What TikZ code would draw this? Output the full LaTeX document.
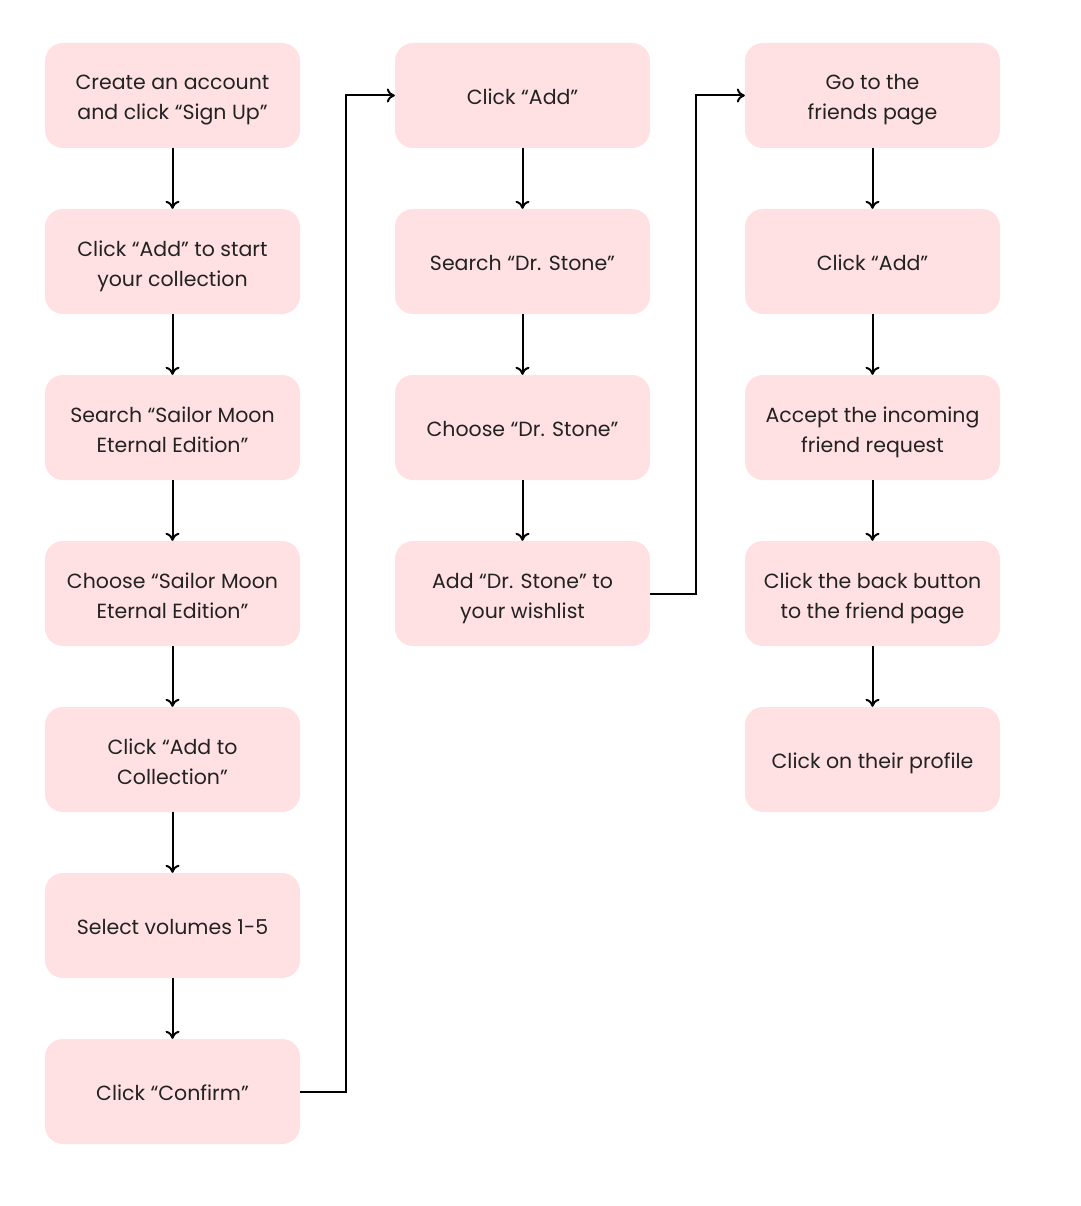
\documentclass[tikz,border=0pt]{standalone}
\usepackage{fontspec}
\setmainfont{Poppins}
\usepackage{xcolor}
\usetikzlibrary{arrows.meta}
\definecolor{boxpink}{RGB}{255, 224, 227}
\definecolor{textdark}{RGB}{34, 34, 34}

\begin{document}
\begin{tikzpicture}[x=1pt,y=-1pt,
  boxbase/.style={fill=boxpink, rounded corners=18pt, minimum width=255pt, minimum height=105pt,
    align=center, text=textdark, font=\fontsize{20.5}{30}\selectfont, inner sep=0pt},
  stepbox/.style={boxbase,
    execute at begin node={\rule[-6pt]{0pt}{30pt}}},
  stepboxtwo/.style={boxbase,
    execute at begin node={\rule[-6pt]{0pt}{61pt}}},
  flow/.style={draw=black, line width=2pt, -{To[length=8pt,width=14pt,line width=2pt]}}]
\useasboundingbox (0,0) rectangle (1080,1206);

% Column 1
\node [stepboxtwo] (c1) at (172.5,95.5) {Create an account\\and click “Sign Up”};
\node [stepboxtwo] (c2) at (172.5,261.5) {Click “Add” to start\\your collection};
\node [stepboxtwo] (c3) at (172.5,427.5) {Search “Sailor Moon\\Eternal Edition”};
\node [stepboxtwo] (c4) at (172.5,593.5) {Choose “Sailor Moon\\Eternal Edition”};
\node [stepboxtwo] (c5) at (172.5,759.5) {Click “Add to\\Collection”};
\node [stepbox] (c6) at (172.5,925.5) {Select volumes 1-5};
\node [stepbox] (c7) at (172.5,1091.5) {Click “Confirm”};

% Column 2
\node [stepbox] (d1) at (522.5,95.5) {Click “Add”};
\node [stepbox] (d2) at (522.5,261.5) {Search “Dr. Stone”};
\node [stepbox] (d3) at (522.5,427.5) {Choose “Dr. Stone”};
\node [stepboxtwo] (d4) at (522.5,593.5) {Add “Dr. Stone” to\\your wishlist};

% Column 3
\node [stepboxtwo] (f1) at (872.5,95.5) {Go to the\\friends page};
\node [stepbox] (f2) at (872.5,261.5) {Click “Add”};
\node [stepboxtwo] (f3) at (872.5,427.5) {Accept the incoming\\friend request};
\node [stepboxtwo] (f4) at (872.5,593.5) {Click the back button\\to the friend page};
\node [stepbox] (f5) at (872.5,759.5) {Click on their profile};

% Arrows
\foreach \a/\b in {c1/c2,c2/c3,c3/c4,c4/c5,c5/c6,c6/c7,d1/d2,d2/d3,d3/d4,f1/f2,f2/f3,f3/f4,f4/f5}
  \draw [flow] (\a.south) -- (\b.north);

\draw [flow] (c7.east) -- ++(46,0) |- (d1.west);
\draw [flow] (d4.east) -- ++(46,0) |- (f1.west);

\end{tikzpicture}
\end{document}
